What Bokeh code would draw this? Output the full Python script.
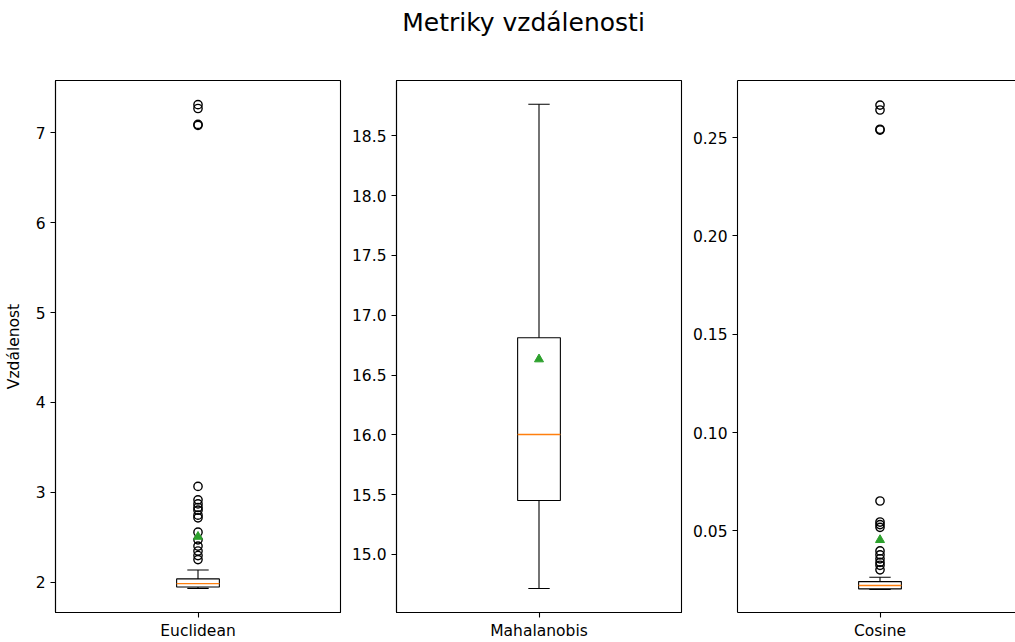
from bokeh.plotting import figure
from bokeh.layouts import row, column
from bokeh.models import Range1d, FixedTicker, PrintfTickFormatter, Label, LinearAxis
from bokeh.embed import file_html
from bokeh.resources import INLINE

# ---------------- data ----------------
title_text = "Metriky vzdálenosti"
y_label = "Vzdálenost"
metrics = ["Euclidean", "Mahalanobis", "Cosine"]

q1 = [1.945, 15.451, 0.0205]
median = [1.982, 16.003, 0.0222]
q3 = [2.035, 16.812, 0.0242]
whisker_low = [1.930, 14.715, 0.0202]
whisker_high = [2.135, 18.763, 0.0264]
means = [2.505, 16.632, 0.0454]

euclid_fliers = [7.085, 7.095, 7.272, 7.315, 3.065, 2.915, 2.870, 2.830, 2.800,
                 2.745, 2.715, 2.555, 2.470, 2.400, 2.345, 2.295, 2.250]
maha_fliers = []
cosine_fliers = [0.2538, 0.2542, 0.2640, 0.2665, 0.0652, 0.0545, 0.0532, 0.0518,
                 0.0398, 0.0378, 0.0358, 0.0340, 0.0325, 0.0302]
fliers = [euclid_fliers, maha_fliers, cosine_fliers]

y_ranges = [(1.661, 7.584), (14.515, 18.962), (0.0085, 0.2790)]
y_ticks = [[2, 3, 4, 5, 6, 7],
           [15.0, 15.5, 16.0, 16.5, 17.0, 17.5, 18.0, 18.5],
           [0.05, 0.10, 0.15, 0.20, 0.25]]
y_formats = ["%d", "%.1f", "%.2f"]

# ---------------- layout ----------------
FONT = "DejaVu Sans"
TICK_FS = "15.5px"
TITLE_FS = "25px"
position = 1.0
box_w = 0.15
cap_w = box_w / 2
FRAME_W = 285
lefts = [55, 51, 51]
rights = [5, 5, 0]
frame_ws = [285, 285, 278]
HEADER_H = 44
H = 642 - HEADER_H
TOP = 80 - HEADER_H
BOTTOM = 30
TOTAL_W = sum(lefts) + sum(rights) + sum(frame_ws)


def style_axis(ax):
    ax.axis_line_color = "black"
    ax.axis_line_width = 1.1
    ax.major_tick_line_color = "black"
    ax.major_tick_line_width = 1.1
    ax.major_tick_out = 5
    ax.major_tick_in = 0
    ax.minor_tick_line_color = None
    ax.major_label_text_font = FONT
    ax.major_label_text_font_size = TICK_FS
    ax.major_label_text_color = "black"
    ax.major_label_standoff = 5


# header strip holding the figure-wide title
header = figure(width=TOTAL_W, height=HEADER_H, x_range=Range1d(0, TOTAL_W),
                y_range=Range1d(0, HEADER_H), output_backend="svg",
                toolbar_location=None, x_axis_location=None, y_axis_location=None,
                min_border=0, min_border_left=0, min_border_right=0,
                min_border_top=0, min_border_bottom=0)
header.xgrid.visible = False
header.ygrid.visible = False
header.outline_line_color = None
header.background_fill_color = "white"
header.border_fill_color = "white"
header.add_layout(Label(x=523, y=HEADER_H - 22, x_units="screen", y_units="screen",
                        text=title_text, text_align="center", text_baseline="middle",
                        text_font=FONT, text_font_size=TITLE_FS, text_color="black"))

figs = []
for i in range(3):
    fw = frame_ws[i]
    x_end = 0.5 + fw / FRAME_W
    p = figure(width=lefts[i] + fw + rights[i], height=H,
               x_range=Range1d(0.5, x_end), y_range=Range1d(*y_ranges[i]),
               output_backend="svg", toolbar_location=None,
               min_border_left=lefts[i], min_border_right=rights[i],
               min_border_top=TOP, min_border_bottom=BOTTOM)
    p.xgrid.visible = False
    p.ygrid.visible = False
    p.background_fill_color = "white"
    p.border_fill_color = "white"

    xa = p.below[0]
    style_axis(xa)
    xa.ticker = FixedTicker(ticks=[position])
    xa.major_label_overrides = {position: metrics[i]}
    xa.major_label_standoff = 4

    ya = p.left[0]
    style_axis(ya)
    ya.ticker = FixedTicker(ticks=y_ticks[i])
    ya.formatter = PrintfTickFormatter(format=y_formats[i])
    if i == 0:
        ya.axis_label = y_label
        ya.axis_label_text_font = FONT
        ya.axis_label_text_font_size = TICK_FS
        ya.axis_label_text_font_style = "normal"
        ya.axis_label_text_color = "black"
        ya.axis_label_standoff = 10

    if i < 2:
        p.outline_line_color = "black"
        p.outline_line_width = 1.1
        p.outline_line_alpha = 1.0
    else:
        # right edge of this panel is cut off by the window in the reference
        p.outline_line_color = None
        top_ax = LinearAxis(ticker=FixedTicker(ticks=[]))
        top_ax.axis_line_color = "black"
        top_ax.axis_line_width = 1.1
        top_ax.major_tick_out = 0
        top_ax.major_tick_in = 0
        top_ax.minor_tick_line_color = None
        top_ax.major_label_text_font_size = "0px"
        p.add_layout(top_ax, "above")

    # box
    p.quad(left=[position - box_w / 2], right=[position + box_w / 2],
           bottom=[q1[i]], top=[q3[i]], fill_color=None,
           line_color="black", line_width=1.1)
    # whiskers
    p.segment(x0=[position, position], y0=[q3[i], q1[i]],
              x1=[position, position], y1=[whisker_high[i], whisker_low[i]],
              line_color="black", line_width=1.1)
    # caps
    p.segment(x0=[position - cap_w / 2, position - cap_w / 2],
              y0=[whisker_high[i], whisker_low[i]],
              x1=[position + cap_w / 2, position + cap_w / 2],
              y1=[whisker_high[i], whisker_low[i]],
              line_color="black", line_width=1.1)
    # median
    p.segment(x0=[position - box_w / 2], y0=[median[i]],
              x1=[position + box_w / 2], y1=[median[i]],
              line_color="#ff7f0e", line_width=1.4)
    # fliers
    if fliers[i]:
        p.scatter(x=[position] * len(fliers[i]), y=fliers[i], marker="circle",
                  size=8.3, fill_color=None, line_color="black", line_width=1.4)
    # mean
    p.scatter(x=[position], y=[means[i]], marker="triangle", size=9,
              fill_color="#2ca02c", line_color="#2ca02c", line_width=1)

    figs.append(p)

layout = column(header, row(*figs, spacing=0), spacing=0)
open("out.html", "w").write(file_html(layout, INLINE))
